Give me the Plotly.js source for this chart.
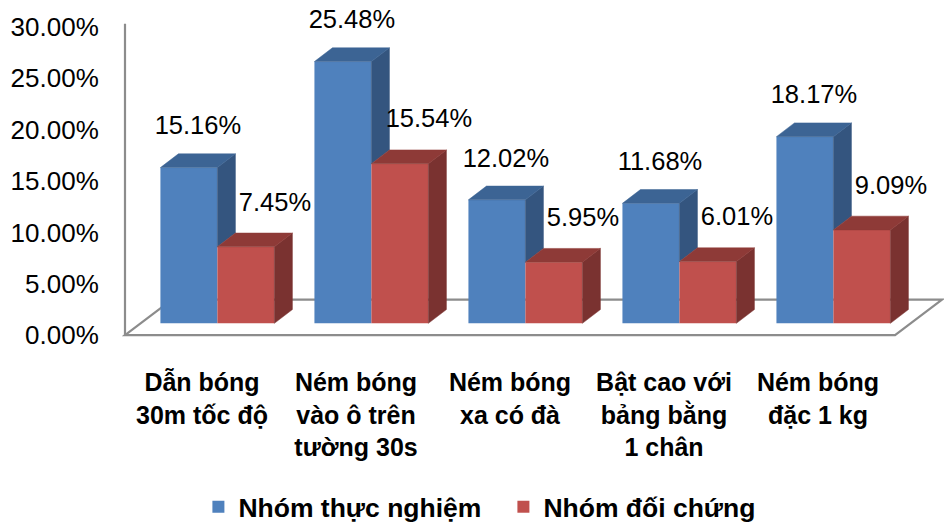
<!DOCTYPE html>
<html>
<head>
<meta charset="utf-8">
<script src="https://cdn.plot.ly/plotly-3.0.1.min.js"></script>
<style>html,body{margin:0;padding:0;background:#fff;}#chart{width:944px;height:531px;}</style>
</head>
<body>
<div id="chart"></div>
<script>
// ---- data ----
const categories = ["Dẫn bóng<br>30m tốc độ", "Ném bóng<br>vào ô trên<br>tường 30s", "Ném bóng<br>xa có đà", "Bật cao với<br>bảng bằng<br>1 chân", "Ném bóng<br>đặc 1 kg"];
const seriesNames = ["Nhóm thực nghiệm", "Nhóm đối chứng"];
const thucNghiem = [15.16, 25.48, 12.02, 11.68, 18.17];
const doiChung = [7.45, 15.54, 5.95, 6.01, 9.09];
const yTickVals = [0, 5, 10, 15, 20, 25, 30];
const yTickText = ["0.00%", "5.00%", "10.00%", "15.00%", "20.00%", "25.00%", "30.00%"];

// ---- 3D look (style constants, in axis units) ----
const FRONT_DX = 0.10, FRONT_DY = 1.15;   // bars sit a bit back on the floor
const BAR_W = 0.37;
const SIDE_DX = 0.117, SIDE_DY = 1.34;    // depth of each bar
const FLOOR_DX = 0.305, FLOOR_DY = 3.45;  // depth of the floor
const N = categories.length;
const FONT = "Liberation Sans, Arial, sans-serif";

const colors = {
  blue: {front: "#4F81BD", top: "#3C6494", side: "#34557F"},
  red:  {front: "#C0504D", top: "#8E3A37", side: "#7A3230"}
};

function centers(sign) {
  return categories.map((c, i) => i + 0.5 + FRONT_DX + sign * BAR_W / 2);
}
function topPoly(xc, vals) {
  const xs = [], ys = [];
  vals.forEach((v, i) => {
    const xl = xc[i] - BAR_W / 2, xr = xc[i] + BAR_W / 2, t = v + FRONT_DY;
    xs.push(xl, xr, xr + SIDE_DX, xl + SIDE_DX, xl, null);
    ys.push(t, t, t + SIDE_DY, t + SIDE_DY, t, null);
  });
  return {xs, ys};
}
function sidePoly(xc, vals, bottoms) {
  const xs = [], ys = [];
  vals.forEach((v, i) => {
    const xr = xc[i] + BAR_W / 2, t = v + FRONT_DY, b = bottoms[i] + FRONT_DY;
    if (t <= b) return;
    xs.push(xr, xr, xr + SIDE_DX, xr + SIDE_DX, xr, null);
    ys.push(b, t, t + SIDE_DY, b + SIDE_DY, b, null);
  });
  return {xs, ys};
}

const xcBlue = centers(-1), xcRed = centers(1);
// blue side is hidden below the red box beside it
const blueSideBottom = thucNghiem.map((v, i) => Math.min(v, doiChung[i]));
const redSideBottom = doiChung.map(() => 0);

const traces = [];
traces.push({type: "bar", x: xcBlue, y: thucNghiem, base: FRONT_DY, width: BAR_W, name: seriesNames[0],
  marker: {color: colors.blue.front, line: {width: 0}}, hoverinfo: "skip"});
traces.push({type: "bar", x: xcRed, y: doiChung, base: FRONT_DY, width: BAR_W, name: seriesNames[1],
  marker: {color: colors.red.front, line: {width: 0}}, hoverinfo: "skip"});

function faceTrace(p, color) {
  return {type: "scatter", mode: "lines", x: p.xs, y: p.ys, fill: "toself", fillcolor: color,
    line: {width: 0.5, color: color}, showlegend: false, hoverinfo: "skip"};
}
traces.push(faceTrace(sidePoly(xcBlue, thucNghiem, blueSideBottom), colors.blue.side));
traces.push(faceTrace(topPoly(xcBlue, thucNghiem), colors.blue.top));
traces.push(faceTrace(sidePoly(xcRed, doiChung, redSideBottom), colors.red.side));
traces.push(faceTrace(topPoly(xcRed, doiChung), colors.red.top));

// data labels
const fmt = v => v.toFixed(2) + "%";
traces.push({type: "scatter", mode: "text", showlegend: false, hoverinfo: "skip", cliponaxis: false,
  x: xcBlue.map(x => x + SIDE_DX / 2), y: thucNghiem.map(v => v + FRONT_DY + 3.85),
  text: thucNghiem.map(fmt), textposition: "middle center", textfont: {family: FONT, size: 25.5, color: "#000"}});
traces.push({type: "scatter", mode: "text", showlegend: false, hoverinfo: "skip", cliponaxis: false,
  x: xcRed.map(x => x + SIDE_DX / 2 + 0.13), y: doiChung.map(v => v + FRONT_DY + 4.15),
  text: doiChung.map(fmt), textposition: "middle center", textfont: {family: FONT, size: 25.5, color: "#000"}});

const floorPath = `M 0,0 L ${N},0 L ${N + FLOOR_DX},${FLOOR_DY} L ${FLOOR_DX},${FLOOR_DY} Z`;

const layout = {
  width: 944, height: 531,
  margin: {l: 110, r: 0, t: 18, b: 181},
  paper_bgcolor: "#fff", plot_bgcolor: "rgba(0,0,0,0)",
  barmode: "overlay",
  showlegend: true,
  font: {family: FONT, color: "#000"},
  xaxis: {range: [-0.0974, 5.318], tickvals: categories.map((c, i) => i + 0.5), ticktext: categories,
    showgrid: false, zeroline: false, showline: false, ticks: "outside", ticklen: 15, tickcolor: "rgba(0,0,0,0)",
    tickfont: {family: FONT, size: 25, color: "#000", weight: "bold"}, fixedrange: true},
  yaxis: {range: [-0.96, 30.87], tickvals: yTickVals, ticktext: yTickText,
    showgrid: false, zeroline: false, showline: false, ticks: "outside", ticklen: 5, tickcolor: "rgba(0,0,0,0)",
    tickfont: {family: FONT, size: 26, color: "#000"}, fixedrange: true},
  shapes: [
    {type: "path", xref: "x", yref: "y", path: floorPath, layer: "below", line: {color: "#8C8C8C", width: 2.2}},
    {type: "line", xref: "x", yref: "y", x0: 0, y0: 0, x1: 0, y1: 30.3, layer: "below", line: {color: "#8C8C8C", width: 2.2}}
  ],
  legend: {orientation: "h", x: 0.106, xanchor: "left", y: -0.497, yanchor: "middle",
    entrywidth: 260, entrywidthmode: "pixels",
    font: {family: FONT, size: 26.5, color: "#000", weight: "bold"}, bgcolor: "rgba(0,0,0,0)", itemclick: false}
};

Plotly.newPlot("chart", traces, layout, {displayModeBar: false, staticPlot: true});
</script>
</body>
</html>
